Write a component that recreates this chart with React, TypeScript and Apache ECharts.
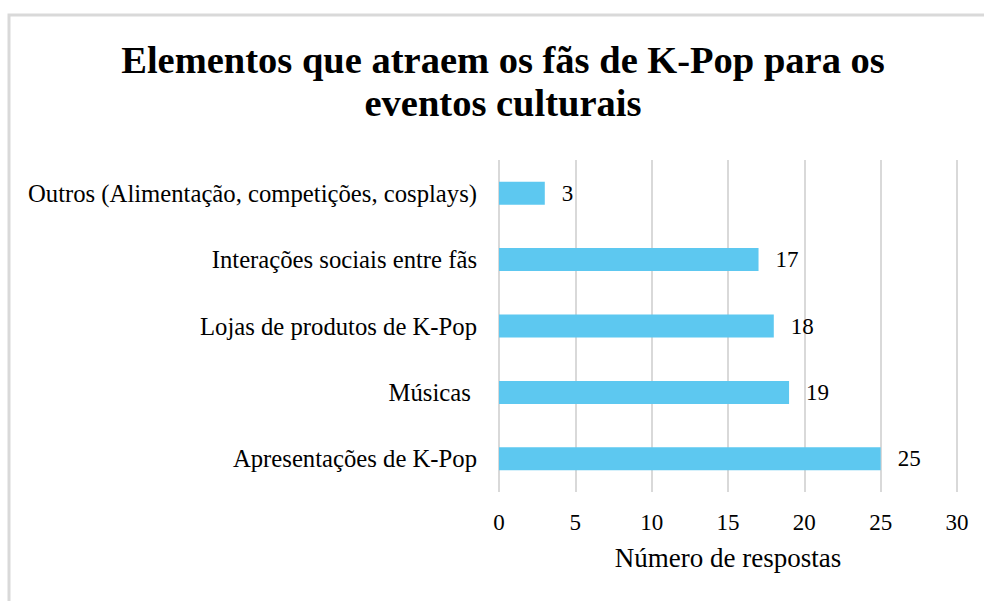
import React, { useEffect, useRef } from "react";
import * as echarts from "echarts";

const categories = [
  "Outros (Alimentação, competições, cosplays)",
  "Interações sociais entre fãs",
  "Lojas de produtos de K-Pop",
  "Músicas ",
  "Apresentações de K-Pop",
];
const values = [3, 17, 18, 19, 25];
const titleText = "Elementos que atraem os fãs de K-Pop para os\neventos culturais";
const xAxisName = "Número de respostas";

const FONT = "'Liberation Serif', 'Times New Roman', serif";

export default function App() {
  const ref = useRef<HTMLDivElement>(null);
  useEffect(() => {
    if (!ref.current) return;
    const chart = echarts.init(ref.current, null, { renderer: "svg" });
    chart.setOption({
      animation: false,
      backgroundColor: "#ffffff",
      title: {
        text: titleText,
        left: 498,
        textAlign: "center",
        top: 33,
        padding: 5,
        textStyle: {
          fontFamily: FONT,
          fontSize: 38.5,
          fontWeight: "bold",
          color: "#000000",
          lineHeight: 43,
        },
      },
      graphic: [
        {
          type: "rect",
          shape: { x: 9, y: 15, width: 1100, height: 700 },
          style: { fill: "none", stroke: "#d9d9d9", lineWidth: 3 },
          silent: true,
        },
      ],
      grid: { left: 499, right: 27, top: 160, bottom: 109, containLabel: false },
      xAxis: {
        type: "value",
        min: 0,
        max: 30,
        interval: 5,
        name: xAxisName,
        nameLocation: "middle",
        nameGap: 52,
        nameTextStyle: { fontFamily: FONT, fontSize: 27, color: "#000" },
        axisLine: { show: false },
        axisTick: { show: false },
        axisLabel: { fontFamily: FONT, fontSize: 23, color: "#000", margin: 19 },
        splitLine: { lineStyle: { color: "#d9d9d9", width: 2 } },
      },
      yAxis: {
        type: "category",
        data: categories,
        inverse: true,
        axisLine: { show: false },
        axisTick: { show: false },
        axisLabel: { fontFamily: FONT, fontSize: 24.7, color: "#000", margin: 22 },
        splitLine: { show: false },
      },
      series: [
        {
          type: "bar",
          data: values,
          barWidth: 23,
          itemStyle: { color: "#5DC8F0" },
          label: {
            show: true,
            position: "right",
            distance: 17,
            fontFamily: FONT,
            fontSize: 23,
            color: "#000",
          },
        },
      ],
    });
    return () => chart.dispose();
  }, []);
  return (
    <div
      ref={ref}
      style={{ position: "fixed", left: 0, top: 0, width: 984, height: 601 }}
    />
  );
}
